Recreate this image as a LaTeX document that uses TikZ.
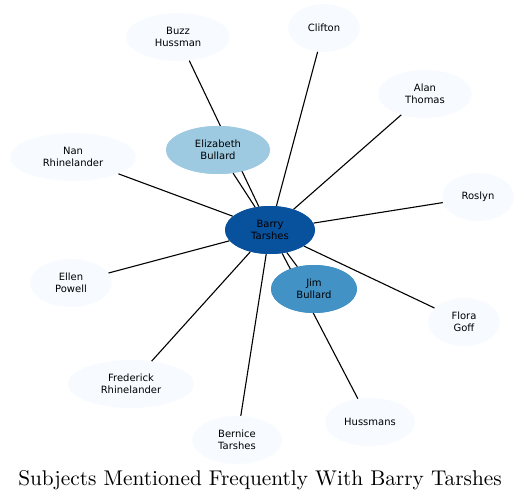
\documentclass[tikz,border=0pt]{standalone}
\usepackage{fontspec}
\newfontfamily\nodefont{DejaVu Sans}
\newfontfamily\titlefont{lmroman10-regular.otf}
\usetikzlibrary{shapes.geometric}
\definecolor{pale}{HTML}{F7FBFF}
\definecolor{dark}{HTML}{08519C}
\definecolor{mid}{HTML}{4292C6}
\definecolor{light}{HTML}{9ECAE1}
\begin{document}
\begin{tikzpicture}[x=1pt,y=-1pt,
  ent/.style={ellipse,fill=pale,inner sep=0pt,align=center,
    font=\nodefont\fontsize{10}{12}\selectfont},
  link/.style={draw=black,line width=1.1pt}]
\useasboundingbox (0,0) rectangle (525,501);
\node[ent,fill=dark,minimum width=90,minimum height=48] (barry) at (270,230) {Barry\\Tarshes};
\node[ent,fill=light,minimum width=104,minimum height=48] (eliz) at (218,150) {Elizabeth\\Bullard};
\node[ent,fill=mid,minimum width=86,minimum height=48] (jim) at (314,289) {Jim\\Bullard};
\node[ent,minimum width=104,minimum height=48] (buzz) at (178,37) {Buzz\\Hussman};
\node[ent,minimum width=72,minimum height=48] (clifton) at (324,28) {Clifton};
\node[ent,minimum width=94,minimum height=48] (alan) at (425,94) {Alan\\Thomas};
\node[ent,minimum width=126,minimum height=48] (nan) at (73,157) {Nan\\Rhinelander};
\node[ent,minimum width=72,minimum height=48] (roslyn) at (478,197) {Roslyn};
\node[ent,minimum width=82,minimum height=48] (ellen) at (71,283) {Ellen\\Powell};
\node[ent,minimum width=72,minimum height=48] (flora) at (464,322) {Flora\\Goff};
\node[ent,minimum width=126,minimum height=48] (fred) at (131,384) {Frederick\\Rhinelander};
\node[ent,minimum width=90,minimum height=48] (bernice) at (237,440) {Bernice\\Tarshes};
\node[ent,minimum width=90,minimum height=48] (huss) at (370,422) {Hussmans};
\foreach \n in {eliz,jim,buzz,clifton,alan,nan,roslyn,ellen,flora,fred,bernice,huss}
  \draw[link] (barry) -- (\n);
% redraw central nodes on top so edges passing behind them are hidden
\node[ent,fill=dark,minimum width=90,minimum height=48] at (270,230) {Barry\\Tarshes};
\node[ent,fill=light,minimum width=104,minimum height=48] at (218,150) {Elizabeth\\Bullard};
\node[ent,fill=mid,minimum width=86,minimum height=48] at (314,289) {Jim\\Bullard};
\node[font=\titlefont\fontsize{21.3}{25}\selectfont,anchor=base] (title) at (260,485) {Subjects Mentioned Frequently With Barry Tarshes};
\end{tikzpicture}
\end{document}
